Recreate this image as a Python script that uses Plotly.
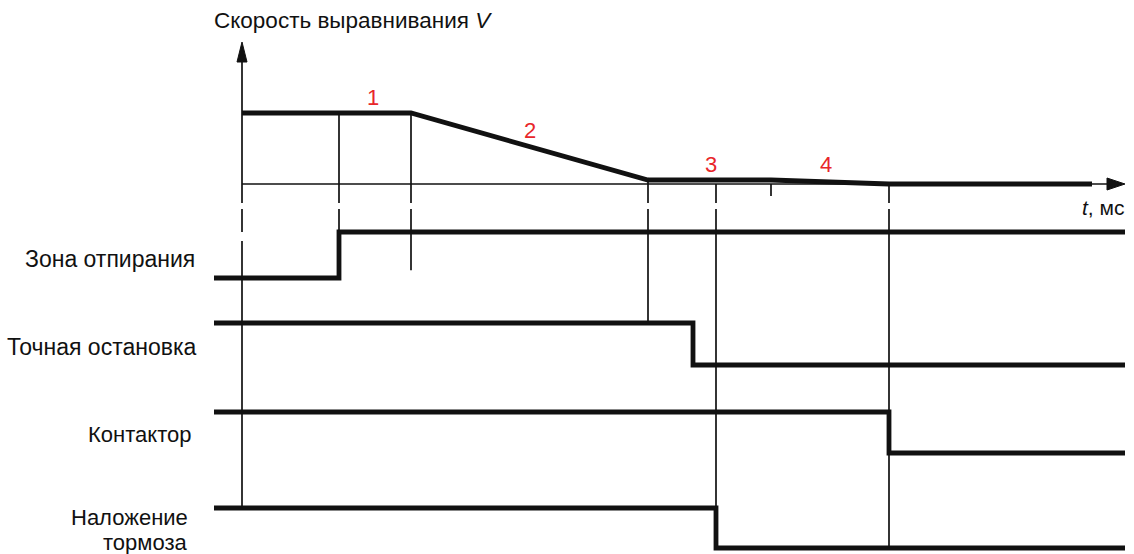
import plotly.graph_objects as go

# ---------------- data ----------------
# event times (ms, relative to origin)
T_END_ZONE = 97        # entering unlocking zone
T_DECEL = 169          # start of deceleration
T_CREEP = 406          # creep speed reached
T_EXACT = 451          # exact stop signal drops
T_BRAKE = 474          # brake applied
T_TICK = 529           # tick on time axis
T_STOP = 647           # speed reaches zero / contactor opens
T_SPEED_END = 850
T_AXIS_END = 883
T_START = -28

# speed profile (relative units)
speed_t = [0, T_DECEL, T_CREEP, T_TICK, T_STOP, T_SPEED_END]
speed_v = [1.0, 1.0, 0.056, 0.056, 0.0, 0.0]

# digital signals: (times of level changes, levels)
zone_t = [T_START, T_END_ZONE, T_END_ZONE, T_AXIS_END]
zone_v = [0, 0, 1, 1]
exact_t = [T_START, T_EXACT, T_EXACT, T_AXIS_END]
exact_v = [1, 1, 0, 0]
cont_t = [T_START, T_STOP, T_STOP, T_AXIS_END]
cont_v = [1, 1, 0, 0]
brake_t = [T_START, T_BRAKE, T_BRAKE, T_AXIS_END]
brake_v = [1, 1, 0, 0]

signal_names = ["Зона отпирания", "Точная остановка", "Контактор", "Наложение", "тормоза"]
phase_labels = ["1", "2", "3", "4"]
phase_t = [131, 288, 469, 584]
phase_v = [1.22, 0.75, 0.27, 0.27]

# ---------------- layout constants (pixel-like vertical units) ----------------
W, H = 1134, 554
X0 = 242  # pixel of t = 0
SPEED_BASE, SPEED_AMP = 184, 71
ROWS = {  # base (level 0) and amplitude
    "zone": (278, 46),
    "exact": (365, 42),
    "cont": (453, 41),
    "brake": (548, 40),
}
GAP = (203, 209)
THICK = 4.8
THIN = 1.7
BLACK = "#111111"
RED = "#e8262a"


def sy(v):
    return SPEED_BASE - v * SPEED_AMP


def ry(row, v):
    b, a = ROWS[row]
    return b - v * a


fig = go.Figure()


def line(xs, ys, width):
    fig.add_trace(go.Scatter(x=xs, y=ys, mode="lines",
                             line=dict(color=BLACK, width=width, shape="linear"),
                             hoverinfo="skip", showlegend=False, cliponaxis=False,
                             connectgaps=False))


# time axis
line([0, T_AXIS_END - 14], [SPEED_BASE, SPEED_BASE], THIN)
# speed
line(speed_t, [sy(v) for v in speed_v], THICK)

# signals
for row, ts, vs in [("zone", zone_t, zone_v), ("exact", exact_t, exact_v),
                    ("cont", cont_t, cont_v), ("brake", brake_t, brake_v)]:
    line(ts, [ry(row, v) for v in vs], THICK)


def vline(t, top, bottom, extra_gaps=()):
    gaps = [GAP] + list(extra_gaps)
    xs, ys = [t], [top]
    for g0, g1 in gaps:
        if top < g0 and bottom > g1:
            xs += [t, None, t]
            ys += [g0, None, g1]
    xs.append(t)
    ys.append(bottom)
    line(xs, ys, THIN)


vline(0, 50, ry("brake", 1), extra_gaps=[(232, 241)])
vline(T_END_ZONE, sy(1), ry("zone", 1))
vline(T_DECEL, sy(1), ry("zone", 0.17))
vline(T_CREEP, sy(0.056), ry("exact", 1))
vline(T_BRAKE, SPEED_BASE, ry("brake", 1))
vline(T_STOP, SPEED_BASE, ry("brake", 0))
line([T_TICK, T_TICK], [SPEED_BASE, SPEED_BASE + 12], THIN)

# arrow heads
fig.add_trace(go.Scatter(x=[T_AXIS_END - 18, T_AXIS_END, T_AXIS_END - 18, T_AXIS_END - 18],
                         y=[SPEED_BASE - 6, SPEED_BASE, SPEED_BASE + 6, SPEED_BASE - 6],
                         mode="lines", fill="toself", fillcolor=BLACK,
                         line=dict(color=BLACK, width=1), hoverinfo="skip",
                         showlegend=False, cliponaxis=False))
fig.add_trace(go.Scatter(x=[-5, 0, 5, -5], y=[62, 42, 62, 62],
                         mode="lines", fill="toself", fillcolor=BLACK,
                         line=dict(color=BLACK, width=1), hoverinfo="skip",
                         showlegend=False, cliponaxis=False))

FONT = "Liberation Sans, Arial, sans-serif"

ann = []
ann.append(dict(x=-30, y=20, xref="x", yref="y", text="Скорость выравнивания <i>V</i>",
                showarrow=False, xanchor="left", yanchor="middle",
                font=dict(family=FONT, size=22.5, color=BLACK)))
ann.append(dict(x=T_AXIS_END + 1, y=207, xref="x", yref="y", text="<i>t</i>, мс",
                showarrow=False, xanchor="right", yanchor="middle",
                font=dict(family=FONT, size=21, color=BLACK)))
for lab, t, v in zip(phase_labels, phase_t, phase_v):
    ann.append(dict(x=t, y=sy(v), xref="x", yref="y", text=lab, showarrow=False,
                    xanchor="center", yanchor="middle",
                    font=dict(family=FONT, size=22, color=RED)))
label_y = [259, 347, 434, 517, 542]
label_x = [-45, -44, -49, -52, -52]
label_size = [23, 23, 22, 22, 22]
for name, y, x, sz in zip(signal_names, label_y, label_x, label_size):
    ann.append(dict(x=x, y=y, xref="x", yref="y", text=name, showarrow=False,
                    xanchor="right", yanchor="middle", align="right",
                    font=dict(family=FONT, size=sz, color=BLACK)))

fig.update_layout(
    width=W, height=H, autosize=False,
    margin=dict(l=0, r=0, t=0, b=0),
    paper_bgcolor="white", plot_bgcolor="white",
    xaxis=dict(range=[-X0, W - X0], visible=False, fixedrange=True),
    yaxis=dict(range=[H, 0], visible=False, fixedrange=True),
    annotations=ann,
    showlegend=False,
)

fig.write_html("out.html", config={"displayModeBar": False},
               post_script="document.body.style.margin='0';document.body.style.overflow='hidden';")
